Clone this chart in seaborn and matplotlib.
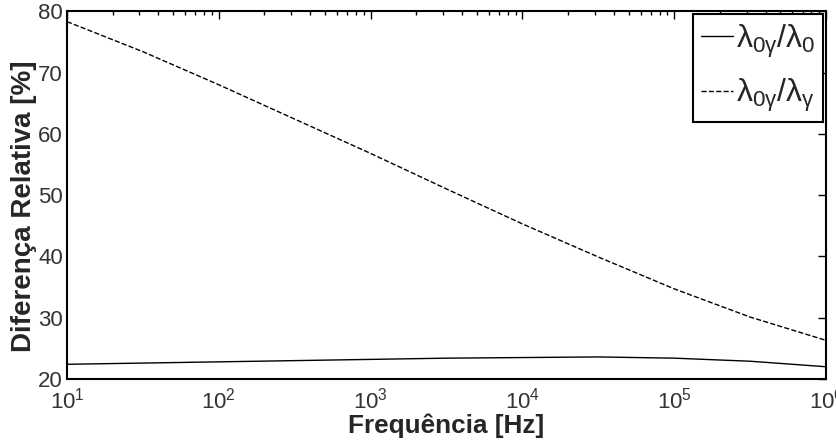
import numpy as np
import pandas as pd
import matplotlib
matplotlib.use('Agg')
import matplotlib.pyplot as plt
import seaborn as sns

freq = [10, 31.6, 100, 316, 1000, 3162, 10000, 31623, 100000, 316228, 1000000]
ratio_0 = [22.4, 22.6, 22.8, 23.0, 23.2, 23.4, 23.5, 23.6, 23.4, 22.9, 22.0]
ratio_g = [78.3, 73.4, 68.0, 62.4, 56.8, 51.0, 45.3, 39.9, 34.7, 30.1, 26.3]

df = pd.DataFrame({'freq': freq, 'r0': ratio_0, 'rg': ratio_g})

sns.set_style('white')
plt.rcParams['font.family'] = ['Liberation Sans', 'DejaVu Sans']
plt.rcParams['mathtext.fontset'] = 'custom'
plt.rcParams['mathtext.rm'] = 'Liberation Sans'
plt.rcParams['mathtext.it'] = 'Liberation Sans'

fig = plt.figure(figsize=(8.37, 4.48), dpi=100)
ax = fig.add_axes([0.080, 0.154, 0.907, 0.821])

sns.lineplot(data=df, x='freq', y='r0', ax=ax, color='black', linewidth=1,
             label=r'$\lambda_{0\gamma}/\lambda_0$')
sns.lineplot(data=df, x='freq', y='rg', ax=ax, color='black', linewidth=1,
             linestyle='--', dashes=(3, 1.5), label=r'$\lambda_{0\gamma}/\lambda_\gamma$')

ax.set_xscale('log')
ax.set_xlim(10, 1e6)
ax.set_ylim(20, 80)
ax.set_yticks(np.arange(20, 81, 10))
ax.tick_params(which='both', direction='in', top=True, right=True, labelsize=16, colors='#333333')
ax.tick_params(which='major', length=6, width=1, color='black')
ax.tick_params(which='minor', length=3, width=1, color='black')
ax.tick_params(axis='x', pad=6)
ax.tick_params(axis='y', pad=3)
for s in ax.spines.values():
    s.set_color('black')
    s.set_linewidth(1.5)

ax.set_xlabel('Frequência [Hz]', fontsize=18.8, fontweight='bold', labelpad=0)
ax.set_ylabel('Diferença Relativa [%]', fontsize=20, fontweight='bold', labelpad=0)
ax.yaxis.set_label_coords(-0.040, 0.47)

leg = ax.legend(loc='upper right', fontsize=23, handlelength=1.0, handletextpad=0.1,
                borderpad=0.25, labelspacing=0.55, fancybox=False, framealpha=1,
                edgecolor='black', borderaxespad=0.1)
leg.get_frame().set_linewidth(1.5)

fig.savefig('out.png', dpi=100)
